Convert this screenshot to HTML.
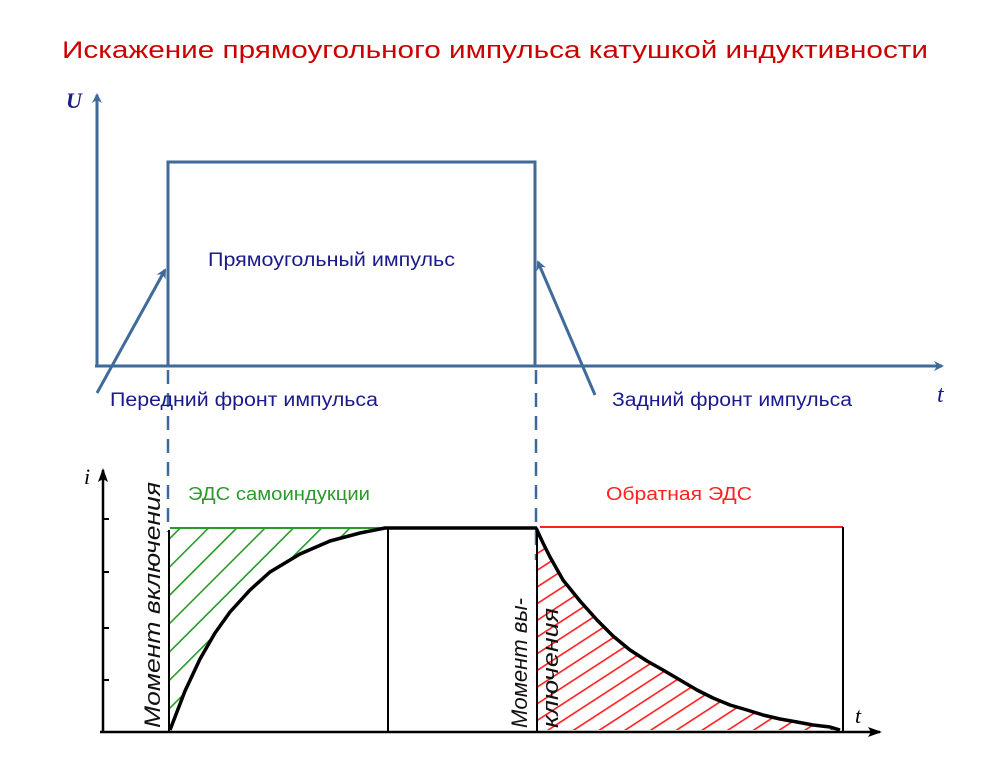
<!DOCTYPE html>
<html><head><meta charset="utf-8"><style>body{margin:0;background:#fff}svg{display:block}</style></head><body>
<svg width="996" height="767" viewBox="0 0 996 767" xmlns="http://www.w3.org/2000/svg" font-family="Liberation Sans, sans-serif">
<defs>
<marker id="ab" markerWidth="10" markerHeight="10" refX="8" refY="5" orient="auto" markerUnits="userSpaceOnUse"><path d="M0,0 L10,5 L0,10 L3,5 Z" fill="#3f6a9a"/></marker>
<marker id="ak" markerWidth="14" markerHeight="10" refX="12" refY="5" orient="auto" markerUnits="userSpaceOnUse"><path d="M0,0 L14,5 L0,10 L3,5 Z" fill="#000"/></marker>
<clipPath id="gc"><path d="M170,528 L385,528 L360,533 L330,541 L300,554 L270,572 L250,590 L230,612 L215,633 L200,659 L185,691 L170,730 Z"/></clipPath>
<clipPath id="rc"><path d="M536,528 L543,543 L550,557 L563,580 L580,601 L597,620 L613,636 L630,650 L647,661 L663,670 L680,680 L697,690 L713,698 L730,705 L747,710 L763,715 L780,719 L797,722 L813,725 L830,727 L840,730 L537,730 Z"/></clipPath>
<pattern id="gh" patternUnits="userSpaceOnUse" width="20" height="20" patternTransform="rotate(-45)"><line x1="0" y1="0" x2="20" y2="0" stroke="#2a9a2a" stroke-width="3.2"/></pattern>
<pattern id="rh" patternUnits="userSpaceOnUse" width="20" height="14" patternTransform="rotate(-33)"><line x1="0" y1="0" x2="20" y2="0" stroke="#ff2020" stroke-width="3.2"/></pattern>
</defs>
<text x="62" y="58" textLength="866" lengthAdjust="spacingAndGlyphs" font-size="24" fill="#cc0000">Искажение прямоугольного импульса катушкой индуктивности</text>
<g stroke="#3f6a9a" stroke-width="3" fill="none">
<line x1="97" y1="366" x2="97" y2="95" marker-end="url(#ab)"/>
<line x1="95" y1="366" x2="942" y2="366" marker-end="url(#ab)"/>
<polyline points="168,366 168,162 535,162 535,366"/>
<line x1="97" y1="393" x2="165" y2="270" marker-end="url(#ab)"/>
<line x1="595" y1="395" x2="538" y2="262" marker-end="url(#ab)"/>
<line x1="168" y1="370" x2="168" y2="532" stroke-dasharray="14,9" stroke-width="2.5"/>
<line x1="536" y1="370" x2="536" y2="560" stroke-dasharray="14,9" stroke-width="2.5"/>
</g>
<text x="66" y="108" font-family="Liberation Serif, serif" font-style="italic" font-weight="bold" font-size="22" fill="#1a1a8c">U</text>
<text x="937" y="402" font-family="Liberation Serif, serif" font-style="italic" font-size="24" fill="#1a1a8c">t</text>
<text x="208" y="266" textLength="247" lengthAdjust="spacingAndGlyphs" font-size="19" fill="#1a1a8c">Прямоугольный импульс</text>
<text x="110" y="406" textLength="268" lengthAdjust="spacingAndGlyphs" font-size="19" fill="#1a1a8c">Передний фронт  импульса</text>
<text x="612" y="406" textLength="240" lengthAdjust="spacingAndGlyphs" font-size="19" fill="#1a1a8c">Задний фронт импульса</text>
<text x="188" y="500" textLength="182" lengthAdjust="spacingAndGlyphs" font-size="18" fill="#2a9a2a">ЭДС самоиндукции</text>
<text x="606" y="500" textLength="146" lengthAdjust="spacingAndGlyphs" font-size="18" fill="#ff2020">Обратная ЭДС</text>
<rect x="160" y="520" width="240" height="220" fill="url(#gh)" clip-path="url(#gc)"/>
<line x1="170" y1="528" x2="385" y2="528" stroke="#2a9a2a" stroke-width="2"/>
<rect x="530" y="520" width="320" height="220" fill="url(#rh)" clip-path="url(#rc)"/>
<line x1="540" y1="527" x2="843" y2="527" stroke="#ff2020" stroke-width="2"/>
<g stroke="#000" fill="none" stroke-linejoin="round">
<line x1="103" y1="733" x2="103" y2="470" stroke-width="2.5" marker-end="url(#ak)"/>
<line x1="100" y1="732" x2="880" y2="732" stroke-width="2.5" marker-end="url(#ak)"/>
<path d="M103,519 h6 M103,572 h6 M103,628 h6 M103,680 h6" stroke-width="2"/>
<line x1="169" y1="530" x2="169" y2="732" stroke-width="2"/>
<polyline points="170,730 185,691 200,659 215,633 230,612 250,590 270,572 300,554 330,541 360,533 385,528 537,528" stroke-width="3.5"/>
<line x1="388" y1="528" x2="388" y2="732" stroke-width="2"/>
<line x1="537" y1="528" x2="537" y2="732" stroke-width="2"/>
<polyline points="536,528 543,543 550,557 563,580 580,601 597,620 613,636 630,650 647,661 663,670 680,680 697,690 713,698 730,705 747,710 763,715 780,719 797,722 813,725 830,727 840,730" stroke-width="3.5"/>
<line x1="843" y1="527" x2="843" y2="732" stroke-width="2"/>
</g>
<text x="84" y="484" font-family="Liberation Serif, serif" font-style="italic" font-size="22">i</text>
<text x="855" y="723" font-family="Liberation Serif, serif" font-style="italic" font-size="22">t</text>
<text transform="translate(160,728) rotate(-90)" textLength="246" lengthAdjust="spacingAndGlyphs" font-size="22" font-style="italic" fill="#111">Момент включения</text>
<text transform="translate(527,728) rotate(-90)" textLength="130" lengthAdjust="spacingAndGlyphs" font-size="22" font-style="italic" fill="#111">Момент вы-</text>
<text transform="translate(558,728) rotate(-90)" textLength="120" lengthAdjust="spacingAndGlyphs" font-size="22" font-style="italic" fill="#111">ключения</text>
</svg>
</body></html>
